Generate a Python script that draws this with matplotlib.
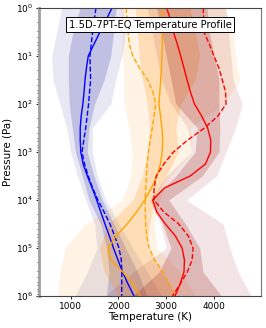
#!/usr/bin/env python
# -*- coding: utf-8 -*-
# Temperature profiles with spread bands, pressure on a log axis

import matplotlib
matplotlib.use('Agg')
import matplotlib.pyplot as plt

# pressure levels (Pa) for the median lines
p_line = [1e0, 1.78e0, 3.16e0, 5.62e0, 1e1, 1.78e1, 3.16e1, 5.62e1,
          1e2, 1.78e2, 3.16e2, 5.62e2, 1e3, 1.78e3, 3.16e3, 5.62e3,
          1e4, 1.78e4, 3.16e4, 5.62e4, 1e5, 1.78e5, 3.16e5, 5.62e5, 1e6]

# pressure levels (Pa) for the bands
p_band = [1e0, 3.16e0, 1e1, 3.16e1, 1e2, 3.16e2, 1e3, 3.16e3,
          1e4, 3.16e4, 1e5, 3.16e5, 1e6]

blue_solid = [1864, 1740, 1613, 1490, 1368, 1330, 1300, 1280, 1255, 1220,
              1200, 1200, 1212, 1260, 1350, 1450, 1545, 1630, 1718, 1810,
              1895, 1990, 2084, 2200, 2324]
blue_dash = [1529, 1495, 1460, 1430, 1404, 1410, 1418, 1395, 1375, 1345,
             1315, 1275, 1238, 1290, 1368, 1460, 1570, 1700, 1822, 1920,
             2010, 2060, 2070, 2068, 2067]

orange_solid = [2916, 2916, 2916, 2916, 2910, 2900, 2883, 2865, 2847, 2880,
                2910, 2925, 2915, 2875, 2805, 2690, 2550, 2380, 2180, 1950,
                1785, 1840, 2090, 2300, 2460]
orange_dash = [2160, 2180, 2200, 2225, 2300, 2440, 2610, 2720, 2778, 2745,
               2707, 2665, 2628, 2600, 2586, 2570, 2560, 2562, 2568, 2590,
               2640, 2760, 2930, 3060, 3188]

red_solid = [3008, 3090, 3150, 3230, 3301, 3370, 3435, 3505, 3590, 3740,
             3865, 3930, 3925, 3820, 3500, 2960, 2715, 2800, 2980, 3190,
             3330, 3380, 3370, 3290, 3182]
red_dash = [3774, 3780, 3788, 3900, 3998, 4100, 4172, 4240, 4250, 4080,
            3800, 3450, 3150, 2950, 2790, 2745, 2740, 2950, 3260, 3460,
            3560, 3540, 3440, 3290, 3130]

# spread bands (K): outer / inner, low and high edge
blue_out_lo = [812, 707, 603, 630, 776, 915, 1000, 1138, 1314, 1500, 1550, 1350, 1090]
blue_out_hi = [2100, 2150, 2073, 1941, 1837, 1452, 1452, 1556, 1732, 2011, 2300, 2600, 2900]
blue_in_lo = [1195, 1050, 950, 950, 970, 1034, 1100, 1243, 1383, 1627, 1750, 1800, 1750]
blue_in_hi = [1950, 1900, 1837, 1697, 1500, 1383, 1347, 1487, 1661, 1906, 2150, 2400, 2600]

orange_out_lo = [2030, 2080, 2080, 2115, 2115, 2220, 2290, 2255, 2080, 1300, 881, 776, 714]
orange_out_hi = [4220, 4395, 4450, 4535, 4200, 3500, 3530, 3100, 2850, 2750, 2800, 3300, 3600]
orange_in_lo = [2350, 2400, 2430, 2500, 2600, 2650, 2600, 2500, 2300, 1800, 1600, 1700, 2000]
orange_in_hi = [3500, 3600, 3700, 3600, 3300, 3200, 3250, 3000, 2750, 2650, 2600, 2900, 3200]

red_out_lo = [2600, 2700, 2800, 2900, 3100, 3450, 3530, 3000, 2650, 2880, 3000, 2300, 1720]
red_out_hi = [4250, 4300, 4350, 4400, 4590, 4450, 4250, 4050, 3420, 4186, 4326, 4500, 4779]
red_in_lo = [2800, 2900, 3000, 3100, 3200, 3650, 3600, 3200, 2690, 2920, 3100, 2850, 2300]
red_in_hi = [3850, 3900, 4000, 4100, 4102, 4120, 4102, 3750, 3050, 3400, 3698, 3768, 4151]

title = '1.5D-7PT-EQ Temperature Profile'


def bands(ax, lo_out, hi_out, lo_in, hi_in, color, a_out=0.1, a_in=0.2):
    ax.fill_betweenx(p_band, lo_out, hi_out, color=color, alpha=a_out, lw=0)
    ax.fill_betweenx(p_band, lo_in, hi_in, color=color, alpha=a_in, lw=0)


def main():
    fig = plt.figure(figsize=(2.66, 3.28), dpi=100)
    ax = fig.add_axes([0.147, 0.0976, 0.834, 0.878])

    bands(ax, blue_out_lo, blue_out_hi, blue_in_lo, blue_in_hi, 'darkblue',
          0.09, 0.17)
    bands(ax, orange_out_lo, orange_out_hi, orange_in_lo, orange_in_hi,
          'darkorange')
    bands(ax, red_out_lo, red_out_hi, red_in_lo, red_in_hi, 'darkred')

    ax.plot(blue_solid, p_line, color='blue', lw=1)
    ax.plot(blue_dash, p_line, color='blue', lw=1, ls='--')
    ax.plot(orange_solid, p_line, color='orange', lw=1)
    ax.plot(orange_dash, p_line, color='orange', lw=1, ls='--')
    ax.plot(red_solid, p_line, color='red', lw=1)
    ax.plot(red_dash, p_line, color='red', lw=1, ls='--')

    ax.set_yscale('log')
    ax.set_ylim(1e6, 1e0)
    ax.set_xlim(340, 4980)
    ax.set_xticks([1000, 2000, 3000, 4000])
    ax.set_xlabel('Temperature (K)', fontsize=7.5)
    ax.set_ylabel('Pressure (Pa)', fontsize=7.5)
    ax.xaxis.set_label_coords(0.5, -0.055)
    ax.yaxis.set_label_coords(-0.122, 0.5)
    ax.tick_params(labelsize=6.5, length=2.2, width=0.6, pad=2)
    ax.tick_params(which='minor', length=1.2, width=0.5)
    for s in ax.spines.values():
        s.set_linewidth(0.8)
        s.set_color('#444444')
    ax.spines['left'].set_linewidth(2.0)
    ax.spines['left'].set_color('#a0a0a0')
    ax.spines['right'].set_color('#777777')

    ax.text(0.5, 0.941, title, transform=ax.transAxes, ha='center',
            va='center', fontsize=7.2,
            bbox=dict(facecolor='white', edgecolor='black', lw=0.7,
                      boxstyle='square,pad=0.25'))

    fig.savefig('out.png', dpi=100)


if __name__ == '__main__':
    main()
